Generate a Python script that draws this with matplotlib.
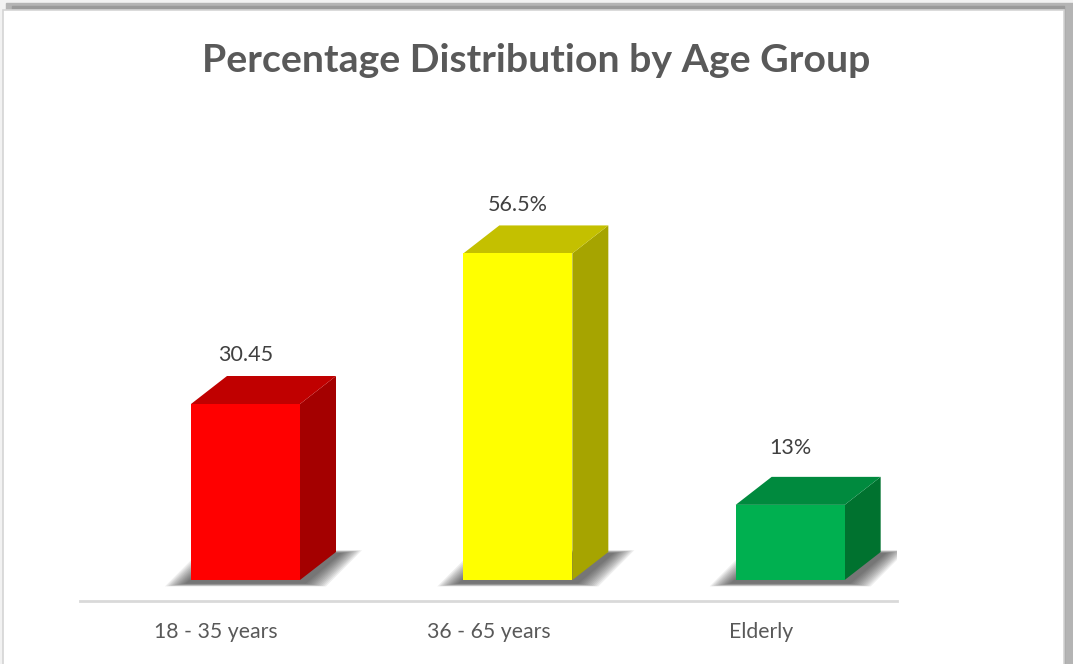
"""
Percentage distribution by age group - 3D style column chart
"""

import numpy as np
import matplotlib.pyplot as plt
from matplotlib.patches import Polygon, Rectangle

groups = ["18 - 35 years", "36 - 65 years", "Elderly"]
values = [30.45, 56.5, 13]
value_labels = ["30.45", "56.5%", "13%"]

front_colors = ["#FF0000", "#FFFF00", "#00B050"]
top_colors = ["#C00000", "#C4C000", "#008A3E"]
side_colors = ["#A40000", "#A6A400", "#00722F"]

# gap (in points) between the top of each column and its value label
label_gap = [15, 14.5, 21]

W, H = 1073, 664
fig = plt.figure(figsize=(W / 100, H / 100), dpi=100)
fig.patch.set_facecolor("#f2f2f2")
plt.rcParams["font.family"] = ["Lato", "DejaVu Sans"]


def fx(px):
    return px / W


def fy(py):
    # pixel measured from top -> figure fraction from bottom
    return 1 - py / H


# chart frame with drop shadow on top / right
fig.patches.append(Rectangle((fx(6), fy(664)), fx(1067), fy(3) - fy(664),
                             transform=fig.transFigure, color="#b4b4b4", zorder=0))
fig.patches.append(Rectangle((fx(12), fy(664)), fx(1052), fy(6) - fy(664),
                             transform=fig.transFigure, color="#9a9a9a", zorder=0))
fig.patches.append(Rectangle((fx(3), fy(670)), fx(1061), fy(10) - fy(670),
                             transform=fig.transFigure, facecolor="white",
                             edgecolor="#d4d4d4", lw=1.2, zorder=1))

# plot area
left, right, top, bottom = 80, 897, 150, 601
ax = fig.add_axes([fx(left), fy(bottom), fx(right - left), fy(top) - fy(bottom)])
ax.set_zorder(2)
px_per_unit = 5.78
ax.set_xlim(-0.5, 2.5)
ax.set_ylim(-(bottom - 580) / px_per_unit, (580 - top) / px_per_unit)
ax.axis("off")

cat_px = (right - left) / 3
x_off = (191 - left) / cat_px - 0.5
bar_w = 109 / cat_px
dx = 36 / cat_px
dy = 28 / px_per_unit

n_layers = 12
for i, v in enumerate(values):
    x0 = i + x_off
    x1 = x0 + bar_w

    # soft floor shadow: stacked translucent parallelograms
    for k in range(n_layers):
        t = (n_layers - k) / n_layers
        e = (4 + 22 * t) / cat_px
        ey = (0.5 + 3 * t) / px_per_unit
        shadow = Polygon([(x0 - e, -0.5 - ey), (x1 + e, -0.5 - ey),
                          (x1 + dx + e, dy - 0.3 + ey),
                          (x0 + dx - e, dy - 0.3 + ey)],
                         closed=True, facecolor="#2a2a2a", edgecolor="none",
                         alpha=0.08, zorder=1)
        ax.add_patch(shadow)

    # front, side and top faces
    ax.add_patch(Polygon([(x0, 0), (x1, 0), (x1, v), (x0, v)],
                         facecolor=front_colors[i], edgecolor="none", zorder=4))
    ax.add_patch(Polygon([(x1, 0), (x1 + dx, dy), (x1 + dx, v + dy), (x1, v)],
                         facecolor=side_colors[i], edgecolor="none", zorder=3))
    ax.add_patch(Polygon([(x0, v), (x1, v), (x1 + dx, v + dy), (x0 + dx, v + dy)],
                         facecolor=top_colors[i], edgecolor="none", zorder=3))

    ax.annotate(value_labels[i], (x0 + bar_w / 2, v + dy), xytext=(0, label_gap[i]),
                textcoords="offset points", ha="center", va="center",
                fontsize=15.5, color="#404040")

# category axis line
ax.plot([-0.5, 2.5], [ax.get_ylim()[0]] * 2, color="#d9d9d9", lw=2,
        clip_on=False, zorder=2)
for i, g in enumerate(groups):
    fig.text(fx(left + cat_px * (i + 0.5)), fy(632), g, ha="center", va="center",
             fontsize=15.3, color="#595959")

fig.text(fx(536), fy(60), "Percentage Distribution by Age Group", ha="center",
         va="center", fontsize=28.3, fontweight="bold", color="#595959")

fig.savefig("out.png", dpi=100)
